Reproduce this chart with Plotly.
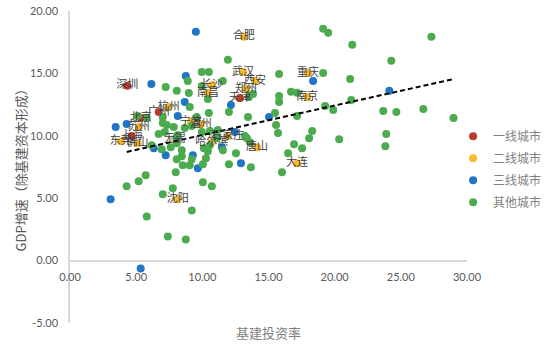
import plotly.graph_objects as go

# ---------------- data ----------------
tier1_names = ["深圳", "广州", "上海", "北京", "天津"]
tier1_x = [4.33, 6.70, 4.66, 5.34, 12.84]
tier1_y = [14.02, 11.91, 9.98, 11.42, 13.03]

tier2_names = ["合肥", "武汉", "西安", "长沙", "南昌", "郑州", "重庆", "南京", "杭州", "苏州",
               "东莞", "佛山", "宁波", "温州", "无锡", "哈尔滨", "石家庄", "唐山", "大连", "沈阳"]
tier2_x = [13.14, 13.07, 13.98, 10.72, 10.42, 13.30, 17.99, 17.92, 7.46, 5.19,
           3.83, 5.11, 9.13, 9.89, 7.92, 10.72, 11.93, 14.13, 17.16, 8.14]
tier2_y = [17.94, 15.12, 14.40, 14.08, 13.43, 13.76, 15.04, 13.11, 12.31, 10.70,
           9.57, 9.41, 11.10, 10.94, 9.73, 9.49, 9.98, 9.09, 7.80, 4.91]

tier3_x = [9.51, 6.15, 8.75, 8.67, 12.16, 8.14, 3.45, 4.28, 8.07, 6.33, 7.23,
           9.28, 9.66, 12.92, 15.04, 18.37, 24.13, 12.46, 3.07, 5.34, 11.48]
tier3_y = [18.34, 14.16, 14.80, 12.71, 12.47, 11.58, 10.70, 10.94, 9.89, 9.01, 8.45,
           8.45, 7.40, 7.80, 11.50, 14.40, 13.60, 10.30, 4.91, -0.64, 9.09]

other_x = [19.13, 19.51, 21.33, 27.31, 24.28, 19.13, 21.17, 19.28, 19.89, 21.25, 23.67,
           24.66, 26.70, 28.98, 20.34, 23.90, 23.83,
           15.80, 11.93, 9.96, 10.49, 16.70, 17.16, 15.80, 15.80, 12.01, 13.45, 15.49,
           17.16, 15.57, 15.72, 18.30, 18.07, 16.93, 17.54, 16.48, 12.54, 13.67, 12.01,
           16.02, 13.37, 13.60, 10.42, 10.27, 10.04, 11.55, 8.90, 11.55, 9.96, 8.07,
           8.98, 10.42, 13.83, 13.52, 9.05, 10.49, 9.58, 11.17, 13.22, 9.20, 9.96,
           10.57, 7.23,
           5.11, 5.80, 7.01, 7.01, 7.31, 7.84, 7.16, 6.70, 8.14, 8.67, 6.17, 7.61,
           8.45, 8.45, 10.11, 10.57, 11.10, 8.07, 6.93,
           8.07, 8.52, 9.05, 9.20, 7.99, 5.72, 5.19, 4.28, 7.01, 7.77, 10.04, 10.72,
           9.20, 5.80, 7.39, 8.75]
other_y = [18.58, 18.26, 17.30, 17.94, 16.01, 15.04, 14.56, 12.39, 12.07, 12.87, 11.99,
           11.91, 12.15, 11.42, 9.73, 10.14, 9.17,
           14.96, 16.09, 15.12, 15.12, 13.52, 13.44, 13.19, 12.71, 11.91, 11.50, 11.83,
           11.58, 10.86, 10.22, 10.38, 9.81, 9.33, 9.01, 8.61, 8.61, 7.48, 7.72,
           7.08, 9.81, 9.49, 8.77, 8.21, 7.72, 8.85, 14.40, 14.40, 14.00, 13.60,
           13.43, 12.95, 13.35, 13.11, 12.31, 11.83, 11.50, 10.46, 9.98, 10.78, 10.30,
           10.38, 13.92,
           11.58, 11.42, 11.50, 11.02, 10.86, 10.70, 10.30, 10.14, 10.06, 10.62, 9.25, 9.09,
           8.85, 8.37, 9.01, 9.25, 9.81, 9.41, 8.93,
           8.13, 7.64, 7.64, 8.13, 7.08, 6.84, 6.36, 5.95, 5.31, 5.79, 6.28, 5.95,
           4.02, 3.54, 1.93, 1.69]

trend_x = [4.29, 28.95]
trend_y = [8.71, 14.54]

x_ticks = [0, 5, 10, 15, 20, 25, 30]
x_tick_labels = ["0.00", "5.00", "10.00", "15.00", "20.00", "25.00", "30.00"]
y_ticks = [-5, 0, 5, 10, 15, 20]
y_tick_labels = ["-5.00", "0.00", "5.00", "10.00", "15.00", "20.00"]

series_names = ["一线城市", "二线城市", "三线城市", "其他城市"]
colors = ["#C0392B", "#F9BA2F", "#2175C7", "#4DAB4F"]

# ---------------- figure ----------------
fig = go.Figure()
msize = 8
fig.add_trace(go.Scatter(x=tier1_x, y=tier1_y, mode="markers", name=series_names[0],
                         marker=dict(color=colors[0], size=msize), legendgroup="a", legendrank=1))
fig.add_trace(go.Scatter(x=tier2_x, y=tier2_y, mode="markers", name=series_names[1],
                         marker=dict(color=colors[1], size=msize), legendgroup="b", legendrank=2))
fig.add_trace(go.Scatter(x=tier3_x, y=tier3_y, mode="markers", name=series_names[2],
                         marker=dict(color=colors[2], size=msize), legendgroup="c", legendrank=3))
fig.add_trace(go.Scatter(x=other_x, y=other_y, mode="markers", name=series_names[3],
                         marker=dict(color=colors[3], size=msize), legendgroup="d", legendrank=4))
fig.add_trace(go.Scatter(x=trend_x, y=trend_y, mode="lines", showlegend=False,
                         line=dict(color="black", width=2, dash="5px,3px"), hoverinfo="skip"))
label_font = dict(family="Noto Sans CJK SC", size=11, color="#404040")
fig.add_trace(go.Scatter(x=tier1_x, y=tier1_y, mode="text", text=tier1_names,
                         textposition="middle center", textfont=label_font, showlegend=False))
fig.add_trace(go.Scatter(x=tier2_x, y=tier2_y, mode="text", text=tier2_names,
                         textposition="middle center", textfont=label_font, showlegend=False))

axis_font = dict(family="Lato, Noto Sans CJK SC", size=11, color="#595959")
fig.update_layout(
    width=545, height=351,
    margin=dict(l=70, r=78, t=11, b=28, autoexpand=False),
    paper_bgcolor="white", plot_bgcolor="white",
    showlegend=True,
    legend=dict(x=0.965, xanchor="left", y=0.645, yanchor="top",
                font=dict(family="Noto Sans CJK SC", size=12, color="#7F7F7F"),
                tracegroupgap=3, itemwidth=30, bgcolor="rgba(0,0,0,0)"),
    xaxis=dict(range=[0, 30], tickvals=x_ticks, ticktext=x_tick_labels,
               showgrid=False, zeroline=False, showline=True, linecolor="#D9D9D9",
               linewidth=1.5, anchor="free", position=0.2, ticks="",
               tickfont=axis_font, ticklabelstandoff=6),
    yaxis=dict(range=[-5, 20], tickvals=y_ticks, ticktext=y_tick_labels,
               showgrid=False, zeroline=False, showline=True, linecolor="#D9D9D9",
               linewidth=1.5, ticks="", tickfont=axis_font, ticklabelstandoff=8),
    annotations=[
        dict(text="基建投资率", xref="paper", yref="paper", x=0.5, y=-0.032,
             xanchor="center", yanchor="middle", showarrow=False,
             font=dict(family="Noto Sans CJK SC", size=13, color="#7F7F7F")),
        dict(text="GDP增速（除基建资本形成）", xref="paper", yref="paper", x=-0.125, y=0.5,
             xanchor="center", yanchor="middle", showarrow=False, textangle=-90,
             font=dict(family="Noto Sans CJK SC", size=13, color="#595959")),
    ],
)

fig.write_html("out.html")
